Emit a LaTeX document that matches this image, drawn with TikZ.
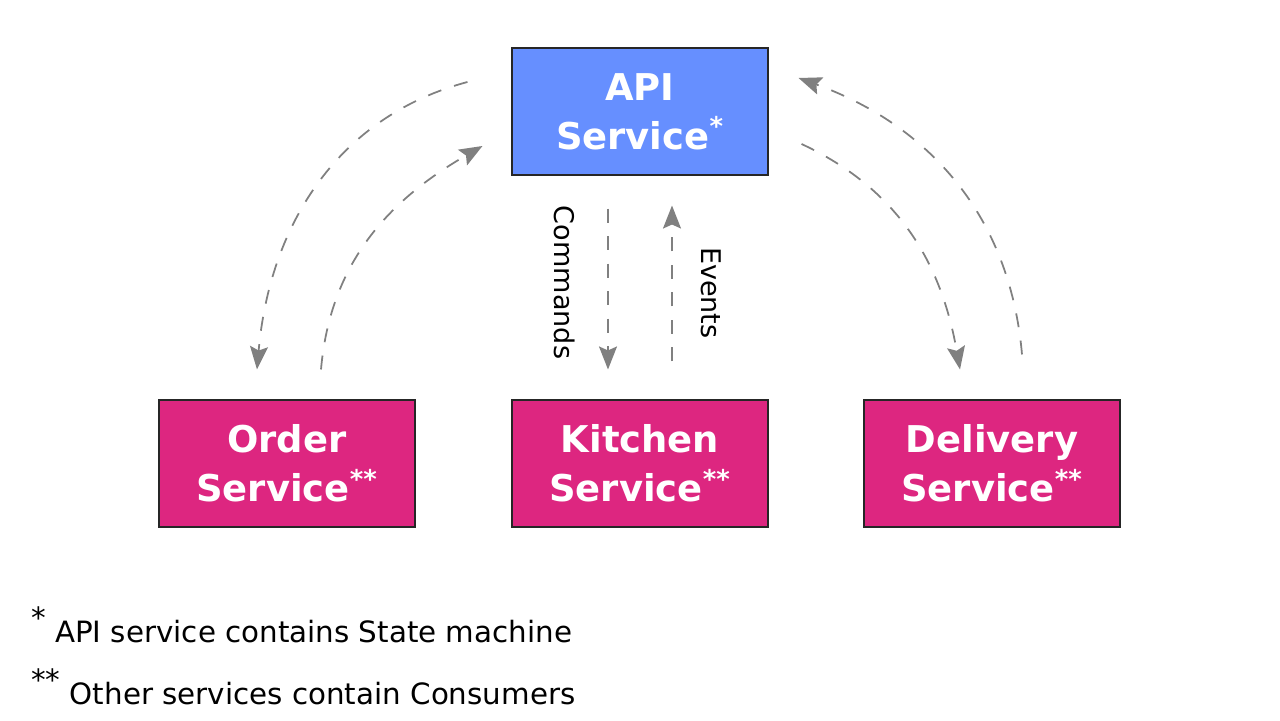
\documentclass[tikz,border=0pt]{standalone}
\usepackage{fontspec}
\setmainfont{DejaVu Sans}
\usepackage{tikz}
\usetikzlibrary{arrows.meta}

\definecolor{apiblue}{RGB}{102,143,255}
\definecolor{svcpink}{RGB}{221,38,128}
\definecolor{flowgray}{RGB}{128,128,128}

\begin{document}
\begin{tikzpicture}[
        service/.style={draw=black!85, line width=0.6pt, minimum width=5.12cm, minimum height=2.54cm,
            inner sep=0pt, align=center, text=white, font=\fontsize{21pt}{27.9pt}\selectfont\bfseries},
        flow/.style={draw=flowgray, line width=1pt, dash pattern=on 0.28cm off 0.27cm,
            -{Stealth[length=0.46cm, width=0.36cm, inset=0.08cm]}},
        label/.style={font=\fontsize{15.4pt}{18pt}\selectfont},
        note/.style={font=\fontsize{16.7pt}{19pt}\selectfont}
    ]
        \useasboundingbox (0,0) rectangle (25.6,14.4);

        % Draw the services
        \node[service, fill=apiblue] (api) at (12.80,12.17) {API\\Service\textsuperscript{*}};
        \node[service, fill=svcpink] (order) at (5.74,5.13) {Order\\Service\textsuperscript{**}};
        \node[service, fill=svcpink] (kitchen) at (12.80,5.13) {Kitchen\\Service\textsuperscript{**}};
        \node[service, fill=svcpink] (delivery) at (19.84,5.13) {Delivery\\Service\textsuperscript{**}};

        % Commands and events
        \draw[flow] ([shift={(-0.64,-0.66)}]api.south) -- ([shift={(-0.64,0.6)}]kitchen.north)
            node[label, pos=0.46, xshift=-0.86cm, rotate=-90] (cmds) {Commands};
        \draw[flow] ([shift={(0.64,0.76)}]kitchen.north) -- ([shift={(0.64,-0.6)}]api.south)
            node[label, pos=0.44, xshift=0.78cm, rotate=-90] (evts) {Events};

        % Order service
        \draw[flow] ([shift={(-0.88,0.59)}]api.west) to[out=195, in=85] ([shift={(-0.6,0.6)}]order.north);
        \draw[flow] ([shift={(0.68,0.6)}]order.north) to[out=85, in=210] ([shift={(-0.58,-0.69)}]api.west);

        % Delivery service
        \draw[flow] ([shift={(0.66,-0.65)}]api.east) to[out=-25, in=100] ([shift={(-0.64,0.6)}]delivery.north);
        \draw[flow] ([shift={(0.6,0.9)}]delivery.north) to[out=95, in=-20] ([shift={(0.6,0.67)}]api.east);

        % Notes
        \node[note, anchor=base west] (note1) at (0.5,1.56) {\raisebox{0.45em}{*} API service contains State machine};
        \node[note, anchor=base west] (note2) at (0.5,0.32) {\raisebox{0.45em}{**} Other services contain Consumers};
    \end{tikzpicture}
\end{document}
